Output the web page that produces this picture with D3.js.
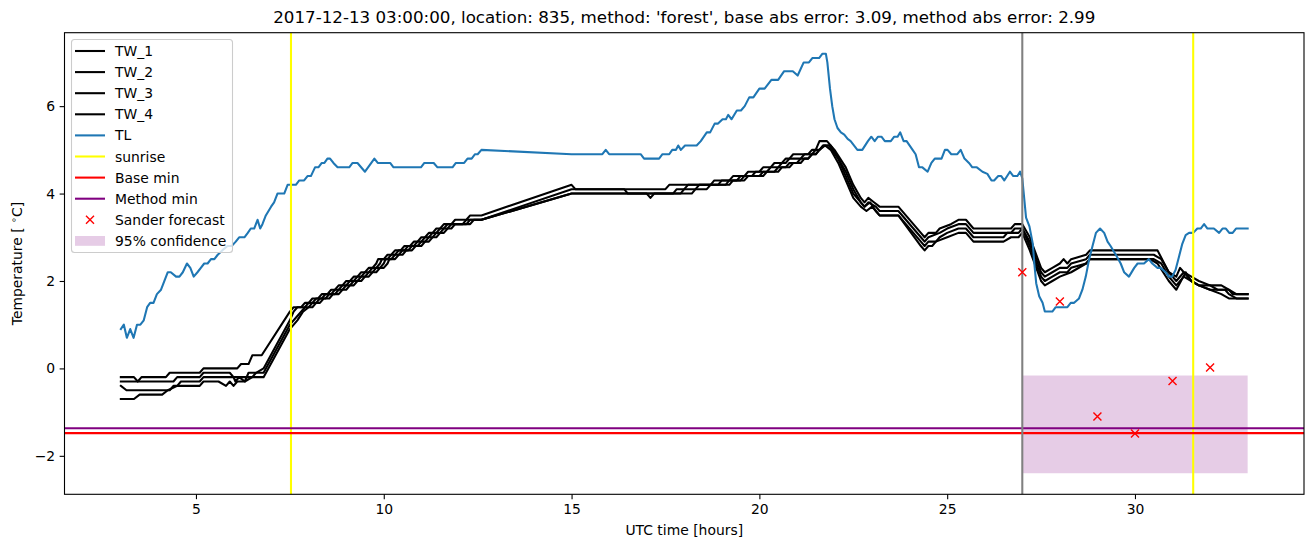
<!DOCTYPE html>
<html><head><meta charset="utf-8">
<script src="https://cdn.jsdelivr.net/npm/d3@7"></script>
<style>
body{margin:0;background:#fff;}
text{font-family:"DejaVu Sans",sans-serif;}
</style></head>
<body><svg id="c" width="1313" height="547"></svg>
<script>
const title = "2017-12-13 03:00:00, location: 835, method: 'forest', base abs error: 3.09, method abs error: 2.99";
const xTicks = [5,10,15,20,25,30];
const yTicks = [-2,0,2,4,6];
const sunrise = [7.53, 31.55];
const forecastStart = 27;
const baseMin = -1.48;
const methodMin = -1.37;
const sanderX = [27,28,29,30,31,32];
const sanderY = [2.2,1.53,-1.1,-1.49,-0.29,0.02];
const confX = [27,33];
const confLow = [-2.4,-2.4];
const confHigh = [-0.16,-0.16];

const TL = [[3.0,0.9],[3.08,1.0],[3.16,0.7],[3.25,0.9],[3.34,0.7],[3.43,1.0],[3.52,1.0],[3.61,1.1],[3.7,1.4],[3.78,1.5],[3.87,1.5],[3.96,1.7],[4.07,1.8],[4.16,2.0],[4.25,2.2],[4.33,2.2],[4.47,2.1],[4.56,2.1],[4.65,2.2],[4.76,2.4],[4.85,2.3],[4.94,2.1],[5.04,2.2],[5.13,2.3],[5.22,2.4],[5.31,2.4],[5.4,2.5],[5.49,2.5],[5.58,2.6],[5.7,2.7],[5.84,2.8],[5.95,2.8],[6.06,2.9],[6.15,3.0],[6.29,3.0],[6.38,3.1],[6.46,3.2],[6.55,3.2],[6.64,3.4],[6.71,3.2],[6.77,3.3],[6.86,3.5],[7.0,3.7],[7.08,3.8],[7.17,4.0],[7.26,4.0],[7.35,4.0],[7.44,4.2],[7.57,4.2],[7.66,4.2],[7.75,4.3],[7.88,4.3],[7.97,4.4],[8.06,4.4],[8.17,4.6],[8.26,4.6],[8.35,4.7],[8.42,4.7],[8.5,4.8],[8.57,4.8],[8.66,4.7],[8.77,4.6],[9.08,4.6],[9.17,4.7],[9.3,4.7],[9.5,4.5],[9.75,4.8],[9.84,4.7],[10.17,4.7],[10.26,4.6],[10.99,4.6],[11.08,4.7],[11.33,4.7],[11.43,4.6],[11.83,4.6],[11.92,4.7],[12.14,4.7],[12.23,4.8],[12.34,4.8],[12.43,4.9],[12.5,4.9],[12.6,5.0],[15.0,4.9],[15.82,4.9],[15.91,5.0],[16.0,4.9],[16.84,4.9],[16.93,4.8],[17.33,4.8],[17.42,4.9],[17.6,4.9],[17.68,5.0],[17.78,5.0],[17.84,5.1],[17.91,5.0],[18.02,5.1],[18.33,5.1],[18.44,5.2],[18.6,5.4],[18.69,5.4],[18.81,5.6],[18.9,5.6],[19.02,5.7],[19.11,5.7],[19.17,5.8],[19.26,5.7],[19.4,5.9],[19.51,5.9],[19.61,6.0],[19.73,6.2],[19.84,6.2],[20.0,6.4],[20.14,6.4],[20.32,6.6],[20.5,6.6],[20.66,6.8],[20.89,6.8],[21.02,6.7],[21.18,7.0],[21.32,7.0],[21.41,7.1],[21.59,7.1],[21.68,7.2],[21.77,7.2],[21.81,7.0],[21.88,6.4],[21.94,6.0],[22.0,5.7],[22.08,5.5],[22.17,5.4],[22.26,5.35],[22.35,5.25],[22.43,5.2],[22.61,5.0],[22.74,5.0],[22.89,5.2],[22.98,5.3],[23.07,5.2],[23.16,5.3],[23.25,5.3],[23.34,5.2],[23.5,5.2],[23.59,5.3],[23.68,5.3],[23.75,5.4],[23.84,5.2],[23.92,5.2],[24.08,5.0],[24.16,4.9],[24.25,4.6],[24.34,4.6],[24.48,4.5],[24.58,4.7],[24.67,4.8],[24.85,4.8],[24.94,5.0],[25.01,5.0],[25.11,4.9],[25.27,4.9],[25.36,5.0],[25.46,4.8],[25.58,4.7],[25.67,4.6],[25.79,4.6],[25.94,4.5],[26.07,4.45],[26.18,4.3],[26.25,4.3],[26.36,4.4],[26.44,4.4],[26.52,4.3],[26.67,4.5],[26.76,4.4],[26.87,4.4],[26.94,4.5],[27.0,4.35],[27.1,3.45],[27.19,3.25],[27.28,2.85],[27.32,2.4],[27.37,1.95],[27.45,1.65],[27.54,1.5],[27.6,1.3],[27.8,1.3],[27.89,1.4],[28.2,1.4],[28.29,1.5],[28.38,1.5],[28.51,1.6],[28.6,1.8],[28.69,2.1],[28.78,2.5],[28.87,2.8],[28.96,3.1],[29.07,3.2],[29.18,3.1],[29.27,2.9],[29.35,2.8],[29.49,2.6],[29.62,2.4],[29.71,2.2],[29.84,2.1],[29.98,2.3],[30.07,2.4],[30.24,2.4],[30.37,2.5],[30.46,2.4],[30.6,2.3],[30.68,2.3],[30.82,2.2],[30.9,2.1],[30.99,2.1],[31.08,2.25],[31.17,2.55],[31.26,2.85],[31.35,3.05],[31.44,3.1],[31.55,3.1],[31.66,3.2],[31.75,3.2],[31.84,3.3],[31.93,3.2],[32.1,3.2],[32.24,3.1],[32.33,3.2],[32.42,3.2],[32.51,3.1],[32.6,3.1],[32.69,3.2],[33.0,3.2]];

const TW_1 = [[3.0,-0.2],[3.35,-0.2],[3.45,-0.3],[3.55,-0.2],[4.2,-0.2],[4.3,-0.1],[5.1,-0.1],[5.2,0.0],[6.1,0.0],[6.2,0.1],[6.4,0.1],[6.5,0.3],[6.75,0.3],[7.5,1.3],[7.6,1.4],[7.8,1.4],[7.9,1.5],[8.0,1.5],[8.1,1.6],[8.25,1.6],[8.35,1.7],[8.5,1.7],[8.6,1.8],[8.7,1.8],[8.8,1.9],[8.9,1.9],[9.0,2.0],[9.1,2.0],[9.2,2.1],[9.3,2.1],[9.4,2.2],[9.5,2.2],[9.6,2.3],[9.7,2.3],[9.8,2.4],[9.85,2.5],[10.0,2.5],[10.1,2.6],[10.2,2.6],[10.3,2.7],[10.45,2.7],[10.55,2.8],[10.7,2.8],[10.8,2.9],[10.9,2.9],[11.0,3.0],[11.1,3.0],[11.2,3.1],[11.3,3.1],[11.4,3.2],[11.5,3.2],[11.6,3.3],[11.8,3.3],[11.9,3.4],[12.2,3.4],[12.3,3.5],[12.6,3.5],[15.0,4.2],[15.1,4.1],[17.5,4.1],[17.6,4.2],[18.7,4.2],[18.8,4.3],[19.2,4.3],[19.3,4.4],[19.6,4.4],[19.7,4.5],[20.0,4.5],[20.1,4.6],[20.3,4.6],[20.4,4.7],[20.6,4.7],[20.7,4.8],[20.8,4.8],[20.9,4.9],[21.3,4.9],[21.4,5.0],[21.5,5.0],[21.6,5.2],[21.8,5.2],[22.0,5.0],[22.3,4.6],[22.5,4.2],[22.7,3.9],[22.8,3.8],[22.9,3.9],[23.05,3.8],[23.2,3.7],[23.7,3.7],[24.3,3.1],[24.4,3.0],[24.5,3.1],[24.7,3.1],[24.8,3.2],[25.1,3.3],[25.3,3.4],[25.5,3.4],[25.7,3.2],[26.7,3.2],[26.8,3.3],[27.0,3.3],[27.2,3.0],[27.5,2.3],[27.6,2.2],[27.8,2.3],[28.0,2.4],[28.1,2.5],[28.2,2.4],[28.3,2.5],[28.7,2.6],[28.8,2.7],[30.6,2.7],[30.9,2.2],[31.1,2.1],[31.2,2.3],[31.3,2.2],[31.5,2.1],[31.7,2.0],[32.0,1.9],[32.3,1.9],[32.5,1.8],[32.7,1.7],[33.0,1.7]];
const TW_2 = [[3.0,-0.3],[3.5,-0.3],[4.4,-0.3],[4.5,-0.2],[5.1,-0.2],[5.2,-0.1],[5.9,-0.1],[6.0,-0.2],[6.05,-0.3],[6.15,-0.2],[6.3,-0.3],[6.4,-0.1],[6.6,-0.1],[6.8,0.0],[7.5,1.1],[7.6,1.3],[7.7,1.4],[7.9,1.4],[8.0,1.5],[8.1,1.5],[8.2,1.6],[8.35,1.6],[8.45,1.7],[8.6,1.7],[8.7,1.8],[8.8,1.8],[8.9,1.9],[9.0,1.9],[9.1,2.0],[9.2,2.0],[9.3,2.1],[9.4,2.1],[9.5,2.2],[9.6,2.2],[9.7,2.3],[9.8,2.3],[9.9,2.4],[9.95,2.5],[10.1,2.5],[10.2,2.6],[10.3,2.6],[10.4,2.7],[10.55,2.7],[10.65,2.8],[10.8,2.8],[10.9,2.9],[11.0,2.9],[11.1,3.0],[11.2,3.0],[11.3,3.1],[11.4,3.1],[11.5,3.2],[11.6,3.2],[11.7,3.3],[12.1,3.3],[12.2,3.4],[12.6,3.4],[15.0,4.1],[16.4,4.1],[16.5,4.0],[17.7,4.0],[17.8,4.1],[18.0,4.1],[18.1,4.2],[18.9,4.2],[19.0,4.3],[19.4,4.3],[19.5,4.4],[19.8,4.4],[19.9,4.5],[20.2,4.5],[20.3,4.6],[20.5,4.6],[20.6,4.7],[20.7,4.7],[20.8,4.8],[21.1,4.8],[21.2,4.9],[21.4,4.9],[21.5,5.0],[21.6,5.0],[21.7,5.1],[21.85,5.1],[22.1,4.8],[22.3,4.5],[22.5,4.1],[22.7,3.8],[22.8,3.7],[22.9,3.8],[23.1,3.7],[23.2,3.6],[23.7,3.6],[24.3,3.0],[24.4,2.9],[24.5,3.0],[24.8,3.1],[25.0,3.2],[25.3,3.3],[25.5,3.3],[25.7,3.1],[26.7,3.1],[26.8,3.2],[27.0,3.2],[27.2,2.9],[27.5,2.2],[27.6,2.1],[27.8,2.2],[28.0,2.3],[28.2,2.3],[28.3,2.4],[28.7,2.5],[28.8,2.6],[30.5,2.6],[30.7,2.5],[30.9,2.2],[31.1,2.0],[31.3,2.2],[31.5,2.0],[31.7,1.9],[32.0,1.9],[32.2,1.8],[32.5,1.8],[32.6,1.7],[33.0,1.7]];
const TW_3 = [[3.0,-0.4],[3.15,-0.5],[4.3,-0.5],[4.4,-0.4],[4.5,-0.4],[4.6,-0.3],[5.1,-0.3],[5.2,-0.2],[6.5,-0.2],[6.6,-0.1],[6.8,-0.1],[7.5,1.0],[7.7,1.2],[7.8,1.3],[7.9,1.4],[8.0,1.4],[8.1,1.5],[8.2,1.5],[8.3,1.6],[8.45,1.6],[8.55,1.7],[8.7,1.7],[8.8,1.8],[8.9,1.8],[9.0,1.9],[9.1,1.9],[9.2,2.0],[9.3,2.0],[9.4,2.1],[9.5,2.1],[9.6,2.2],[9.7,2.2],[9.8,2.3],[9.9,2.3],[10.0,2.4],[10.05,2.5],[10.2,2.5],[10.3,2.6],[10.4,2.6],[10.5,2.7],[10.65,2.7],[10.75,2.8],[10.9,2.8],[11.0,2.9],[11.1,2.9],[11.2,3.0],[11.3,3.0],[11.4,3.1],[11.5,3.1],[11.6,3.2],[11.7,3.2],[11.8,3.3],[12.2,3.3],[12.3,3.4],[12.6,3.4],[15.0,4.0],[17.0,4.0],[17.1,3.9],[17.2,4.0],[17.9,4.0],[18.0,4.1],[18.3,4.1],[18.4,4.2],[19.1,4.2],[19.2,4.3],[19.5,4.3],[19.6,4.4],[20.0,4.4],[20.1,4.5],[20.4,4.5],[20.5,4.6],[20.7,4.6],[20.8,4.7],[21.0,4.7],[21.1,4.8],[21.3,4.8],[21.4,4.9],[21.5,4.9],[21.6,5.0],[21.7,5.1],[21.9,5.1],[22.1,4.8],[22.3,4.4],[22.5,4.0],[22.7,3.8],[22.8,3.7],[22.95,3.8],[23.1,3.6],[23.2,3.5],[23.7,3.5],[24.3,2.9],[24.4,2.8],[24.5,2.9],[24.7,2.9],[24.8,3.0],[25.0,3.1],[25.3,3.2],[25.5,3.2],[25.7,3.0],[26.5,3.0],[26.6,3.1],[26.9,3.1],[27.0,3.2],[27.2,2.8],[27.5,2.1],[27.6,2.0],[27.8,2.1],[28.0,2.2],[28.2,2.2],[28.3,2.3],[28.7,2.4],[28.8,2.5],[30.5,2.5],[30.7,2.4],[30.9,2.1],[31.1,1.9],[31.3,2.1],[31.5,2.0],[31.7,1.9],[32.0,1.8],[32.4,1.8],[32.5,1.7],[32.7,1.6],[33.0,1.6]];
const TW_4 = [[3.0,-0.7],[3.35,-0.7],[3.5,-0.6],[4.1,-0.6],[4.25,-0.5],[4.5,-0.4],[5.1,-0.4],[5.2,-0.3],[5.6,-0.3],[5.8,-0.4],[5.9,-0.3],[6.0,-0.4],[6.1,-0.3],[6.3,-0.3],[6.5,-0.2],[6.8,-0.2],[7.5,0.9],[7.7,1.1],[7.85,1.3],[8.0,1.4],[8.1,1.4],[8.2,1.5],[8.3,1.5],[8.4,1.6],[8.55,1.6],[8.65,1.7],[8.8,1.7],[8.9,1.8],[9.0,1.8],[9.1,1.9],[9.2,1.9],[9.3,2.0],[9.4,2.0],[9.5,2.1],[9.6,2.1],[9.7,2.2],[9.8,2.2],[9.9,2.3],[10.0,2.3],[10.1,2.4],[10.15,2.5],[10.3,2.5],[10.4,2.6],[10.5,2.6],[10.6,2.7],[10.75,2.7],[10.85,2.8],[11.0,2.8],[11.1,2.9],[11.2,2.9],[11.3,3.0],[11.4,3.0],[11.5,3.1],[11.6,3.1],[11.7,3.2],[11.8,3.2],[11.9,3.3],[12.3,3.3],[12.4,3.4],[12.6,3.4],[15.0,4.0],[18.2,4.0],[18.3,4.1],[18.6,4.1],[18.7,4.2],[19.2,4.2],[19.3,4.3],[19.6,4.3],[19.7,4.4],[20.1,4.4],[20.2,4.5],[20.5,4.5],[20.6,4.6],[20.8,4.6],[20.9,4.7],[21.1,4.7],[21.2,4.8],[21.3,4.8],[21.4,4.9],[21.5,4.9],[21.6,5.0],[21.75,5.1],[21.9,5.0],[22.1,4.7],[22.3,4.3],[22.5,3.9],[22.7,3.7],[22.85,3.6],[23.0,3.7],[23.1,3.6],[23.2,3.5],[23.7,3.5],[24.3,2.8],[24.4,2.7],[24.5,2.8],[24.6,2.8],[24.7,2.9],[25.0,3.0],[25.3,3.1],[25.5,3.1],[25.7,2.9],[26.5,2.9],[26.7,3.0],[26.9,3.0],[27.0,3.1],[27.2,2.7],[27.5,2.0],[27.6,1.9],[27.8,2.0],[28.0,2.1],[28.3,2.2],[28.7,2.4],[28.8,2.5],[30.4,2.5],[30.6,2.4],[30.9,2.0],[31.1,1.8],[31.35,2.2],[31.5,2.0],[31.7,1.9],[32.0,1.8],[32.3,1.7],[32.5,1.6],[33.0,1.6]];

const svg = d3.select("#c");
const L=64.5, R=1304, T=32.7, B=494.3;
const x = d3.scaleLinear().domain([1.5,34.5]).range([L,R]);
const y = d3.scaleLinear().domain([-2.88,7.68]).range([B,T]);

svg.append("defs").append("clipPath").attr("id","clip")
  .append("rect").attr("x",L).attr("y",T).attr("width",R-L).attr("height",B-T);
const g = svg.append("g").attr("clip-path","url(#clip)");

const area = d3.area().x((d,i)=>x(confX[i])).y0((d,i)=>y(confLow[i])).y1((d,i)=>y(confHigh[i]));
g.append("path").datum(confX).attr("d",area).attr("fill","purple").attr("fill-opacity",0.2);

const line = d3.line().x(d=>x(d[0])).y(d=>y(d[1]));
[TW_1,TW_2,TW_3,TW_4].forEach(s=>{
  g.append("path").datum(s).attr("d",line).attr("fill","none").attr("stroke","#000").attr("stroke-width",2.08).attr("stroke-linejoin","round").attr("stroke-linecap","square");
});
g.append("path").datum(TL).attr("d",line).attr("fill","none").attr("stroke","#1f77b4").attr("stroke-width",2.08).attr("stroke-linejoin","round").attr("stroke-linecap","square");

sunrise.forEach(s=>{
  g.append("line").attr("x1",x(s)).attr("x2",x(s)).attr("y1",T).attr("y2",B).attr("stroke","yellow").attr("stroke-width",2.08);
});
g.append("line").attr("x1",L).attr("x2",R).attr("y1",y(baseMin)).attr("y2",y(baseMin)).attr("stroke","red").attr("stroke-width",2.08);
g.append("line").attr("x1",L).attr("x2",R).attr("y1",y(methodMin)).attr("y2",y(methodMin)).attr("stroke","purple").attr("stroke-width",2.08);
g.append("line").attr("x1",x(forecastStart)).attr("x2",x(forecastStart)).attr("y1",T).attr("y2",B).attr("stroke","gray").attr("stroke-width",2.08);

function xMark(sel,cx,cy){
  const s=4;
  sel.append("path").attr("d",`M${cx-s},${cy-s}L${cx+s},${cy+s}M${cx-s},${cy+s}L${cx+s},${cy-s}`).attr("stroke","red").attr("stroke-width",1.4).attr("fill","none");
}
sanderX.forEach((v,i)=>xMark(g,x(v),y(sanderY[i])));

const xa = svg.append("g").attr("transform",`translate(0,${B})`).call(d3.axisBottom(x).tickValues(xTicks).tickSize(4.86).tickPadding(4.5).tickFormat(d3.format("d")));
const ya = svg.append("g").attr("transform",`translate(${L},0)`).call(d3.axisLeft(y).tickValues(yTicks).tickSize(4.86).tickPadding(4.5).tickFormat(d=>d<0?"\u2212"+Math.abs(d):String(d)));
[xa,ya].forEach(a=>{
  a.select(".domain").remove();
  a.selectAll("line").attr("stroke","#000").attr("stroke-width",1.1);
  a.selectAll("text").attr("font-size","13.9px").attr("font-family","DejaVu Sans").attr("fill","#000");
});
svg.append("rect").attr("x",L).attr("y",T).attr("width",R-L).attr("height",B-T).attr("fill","none").attr("stroke","#000").attr("stroke-width",1.1);

svg.append("text").attr("x",(L+R)/2).attr("y",23).attr("text-anchor","middle").attr("font-size","16.7px").text(title);
svg.append("text").attr("x",(L+R)/2).attr("y",535).attr("text-anchor","middle").attr("font-size","13.9px").text("UTC time [hours]");
const yl = svg.append("text").attr("transform",`translate(22,${(T+B)/2}) rotate(-90)`).attr("text-anchor","middle").attr("font-size","13.9px");
yl.append("tspan").text("Temperature [ ");
yl.append("tspan").attr("font-size","9.7px").attr("dy",-5).text("\u2218");
yl.append("tspan").attr("dy",5).text("C]");

const leg = svg.append("g");
leg.append("rect").attr("x",71.5).attr("y",39.5).attr("width",161).attr("height",213).attr("rx",3).attr("fill","#fff").attr("fill-opacity",0.8).attr("stroke","#cccccc").attr("stroke-width",1.1);
const items = [
 {label:"TW_1",type:"line",color:"#000"},
 {label:"TW_2",type:"line",color:"#000"},
 {label:"TW_3",type:"line",color:"#000"},
 {label:"TW_4",type:"line",color:"#000"},
 {label:"TL",type:"line",color:"#1f77b4"},
 {label:"sunrise",type:"line",color:"yellow"},
 {label:"Base min",type:"line",color:"red"},
 {label:"Method min",type:"line",color:"purple"},
 {label:"Sander forecast",type:"x",color:"red"},
 {label:"95% confidence",type:"patch",color:"purple"}
];
items.forEach((it,i)=>{
  const cy = 51 + i*21.1;
  if(it.type==="line") leg.append("line").attr("x1",75).attr("x2",105).attr("y1",cy).attr("y2",cy).attr("stroke",it.color).attr("stroke-width",2.08);
  else if(it.type==="x") xMark(leg,90,cy);
  else leg.append("rect").attr("x",75).attr("y",cy-4.9).attr("width",30).attr("height",9.8).attr("fill",it.color).attr("fill-opacity",0.2);
  leg.append("text").attr("x",115).attr("y",cy+5).attr("font-size","13.9px").text(it.label);
});
</script></body></html>
